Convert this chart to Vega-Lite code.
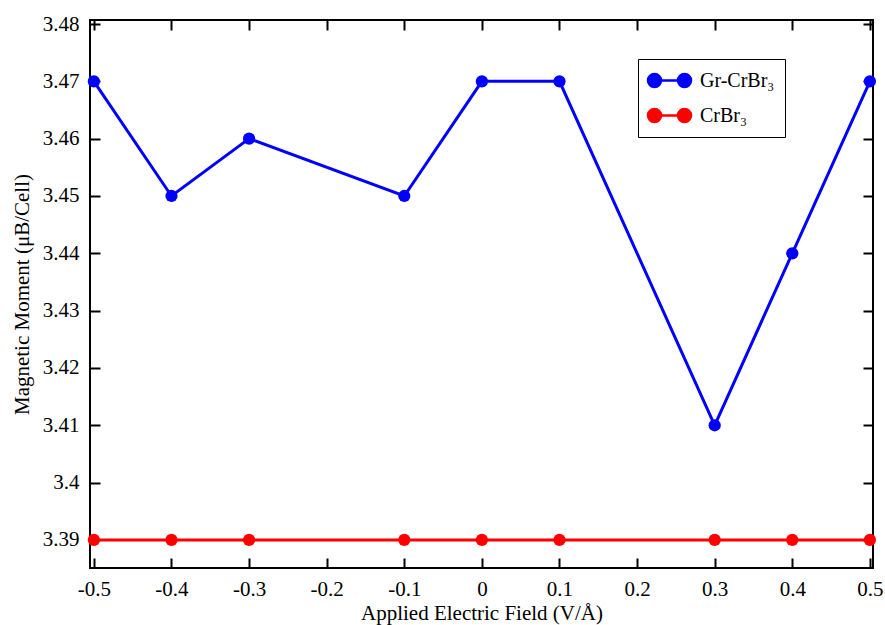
{
  "$schema": "https://vega.github.io/schema/vega-lite/v6.json",
  "width": 783,
  "height": 548,
  "autosize": {"type": "none"},
  "padding": {"left": 90, "top": 20, "right": 12, "bottom": 57},
  "background": "white",
  "config": {
    "view": {"stroke": "black", "strokeWidth": 2},
    "font": "Liberation Serif"
  },
  "data": {
    "values": [
      {"efield": -0.5, "moment": 3.47, "series": "Gr-CrBr₃"},
      {"efield": -0.4, "moment": 3.45, "series": "Gr-CrBr₃"},
      {"efield": -0.3, "moment": 3.46, "series": "Gr-CrBr₃"},
      {"efield": -0.1, "moment": 3.45, "series": "Gr-CrBr₃"},
      {"efield": 0.0, "moment": 3.47, "series": "Gr-CrBr₃"},
      {"efield": 0.1, "moment": 3.47, "series": "Gr-CrBr₃"},
      {"efield": 0.3, "moment": 3.41, "series": "Gr-CrBr₃"},
      {"efield": 0.4, "moment": 3.44, "series": "Gr-CrBr₃"},
      {"efield": 0.5, "moment": 3.47, "series": "Gr-CrBr₃"},
      {"efield": -0.5, "moment": 3.39, "series": "CrBr₃"},
      {"efield": -0.4, "moment": 3.39, "series": "CrBr₃"},
      {"efield": -0.3, "moment": 3.39, "series": "CrBr₃"},
      {"efield": -0.1, "moment": 3.39, "series": "CrBr₃"},
      {"efield": 0.0, "moment": 3.39, "series": "CrBr₃"},
      {"efield": 0.1, "moment": 3.39, "series": "CrBr₃"},
      {"efield": 0.3, "moment": 3.39, "series": "CrBr₃"},
      {"efield": 0.4, "moment": 3.39, "series": "CrBr₃"},
      {"efield": 0.5, "moment": 3.39, "series": "CrBr₃"}
    ]
  },
  "resolve": {"axis": {"x": "independent", "y": "independent"}},
  "layer": [
    {
      "mark": {"type": "line", "strokeWidth": 3},
      "encoding": {
        "x": {
          "field": "efield", "type": "quantitative",
          "scale": {"domain": [-0.505, 0.504], "nice": false, "zero": false},
          "axis": {
            "title": "Applied Electric Field (V/Å)",
            "values": [-0.5, -0.4, -0.3, -0.2, -0.1, 0, 0.1, 0.2, 0.3, 0.4, 0.5],
            "labelExpr": "replace(format(datum.value, '.1~f'), '−', '-')",
            "domain": false, "grid": false,
            "tickSize": -10, "tickWidth": 2, "tickColor": "black",
            "labelFont": "Liberation Serif", "labelFontSize": 21, "labelColor": "black",
            "titleFont": "Liberation Serif", "titleFontSize": 21, "titleFontWeight": "normal", "titleColor": "black",
            "labelPadding": 20,
            "titlePadding": 3,
            "labelFlush": false
          }
        },
        "y": {
          "field": "moment", "type": "quantitative",
          "scale": {"domain": [3.3851, 3.4807], "nice": false, "zero": false},
          "axis": {
            "title": "Magnetic Moment (μB/Cell)",
            "values": [3.39, 3.4, 3.41, 3.42, 3.43, 3.44, 3.45, 3.46, 3.47, 3.48],
            "format": ".2~f",
            "domain": false, "grid": false,
            "tickSize": -10, "tickWidth": 2, "tickColor": "black",
            "labelFont": "Liberation Serif", "labelFontSize": 21, "labelColor": "black",
            "titleFont": "Liberation Serif", "titleFontSize": 21, "titleFontWeight": "normal", "titleColor": "black",
            "labelPadding": 21,
            "titlePadding": 10,
            "labelFlush": false
          }
        },
        "color": {
          "field": "series", "type": "nominal",
          "sort": ["Gr-CrBr₃", "CrBr₃"],
          "scale": {"domain": ["Gr-CrBr₃", "CrBr₃"], "range": ["#0000ff", "#ff0000"]},
          "legend": {
            "title": null,
            "orient": "none",
            "legendX": 548,
            "legendY": 39,
            "strokeColor": "black",
            "padding": 10,
            "fillColor": "white",
            "labelFont": "Liberation Serif",
            "labelFontSize": 20,
            "labelColor": "black",
            "rowPadding": 12,
            "symbolType": "M-0.5,0L2.5,0M-1.15,0A0.65,0.65 0 1,0 0.15,0A0.65,0.65 0 1,0 -1.15,0ZM1.85,0A0.65,0.65 0 1,0 3.15,0A0.65,0.65 0 1,0 1.85,0Z",
            "symbolSize": 400,
            "symbolStrokeWidth": 2.5,
            "symbolOpacity": 1,
            "labelOffset": 29
          }
        }
      }
    },
    {
      "mark": {"type": "point", "filled": true, "size": 150, "opacity": 1},
      "encoding": {
        "x": {"field": "efield", "type": "quantitative", "axis": null},
        "y": {"field": "moment", "type": "quantitative", "axis": null},
        "color": {"field": "series", "type": "nominal", "legend": null}
      }
    },
    {
      "mark": {"type": "point", "opacity": 0},
      "encoding": {
        "x": {
          "field": "efield", "type": "quantitative",
          "axis": {"orient": "top", "labels": false, "title": null,
                   "domain": false, "grid": false,
                   "tickSize": -10, "tickWidth": 2, "tickColor": "black",
                   "values": [-0.5, -0.4, -0.3, -0.2, -0.1, 0, 0.1, 0.2, 0.3, 0.4, 0.5]}
        },
        "y": {
          "field": "moment", "type": "quantitative",
          "axis": {"orient": "right", "labels": false, "title": null,
                   "domain": false, "grid": false,
                   "tickSize": -10, "tickWidth": 2, "tickColor": "black",
                   "values": [3.39, 3.4, 3.41, 3.42, 3.43, 3.44, 3.45, 3.46, 3.47, 3.48]}
        }
      }
    }
  ]
}
